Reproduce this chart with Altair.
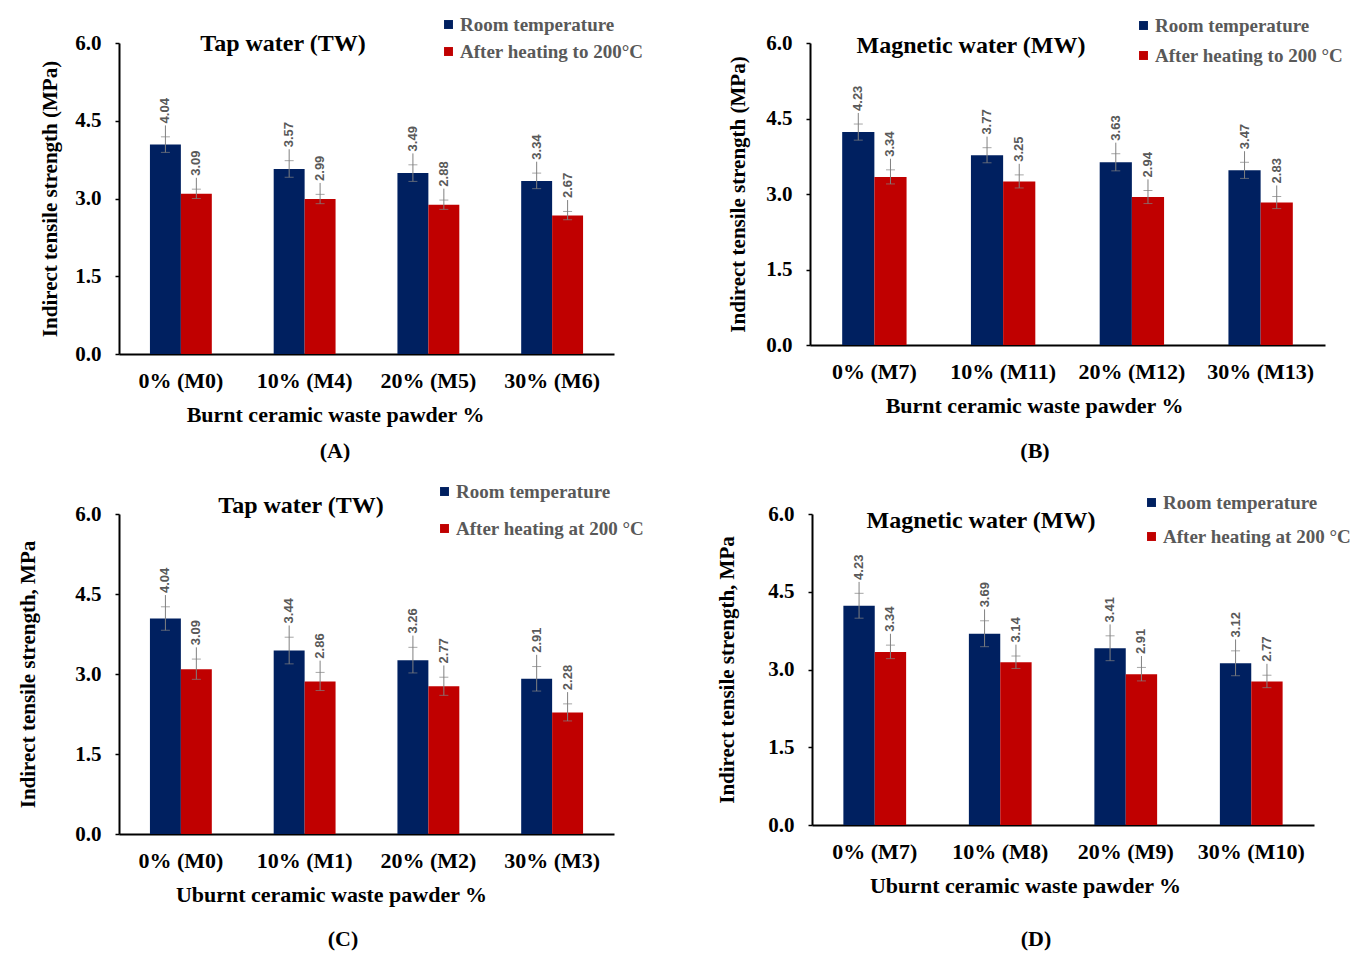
import altair as alt
import pandas as pd

SERIF = "Liberation Serif"
SANS = "Liberation Sans"
COLORS = ["#002060", "#C00000"]
LABEL_GAP = 0.22

# ---- Panel A ----
cats_A = ["0% (M0)", "10% (M4)", "20% (M5)", "30% (M6)"]
room_A = [4.04, 3.57, 3.49, 3.34]
heat_A = [3.09, 2.99, 2.88, 2.67]
err_room_A = [0.15, 0.16, 0.16, 0.15]
err_heat_A = [0.09, 0.09, 0.09, 0.08]
series_A = ["Room temperature", "After heating to 200°C"]

# ---- Panel B ----
cats_B = ["0% (M7)", "10% (M11)", "20% (M12)", "30% (M13)"]
room_B = [4.23, 3.77, 3.63, 3.47]
heat_B = [3.34, 3.25, 2.94, 2.83]
err_room_B = [0.16, 0.15, 0.17, 0.16]
err_heat_B = [0.14, 0.13, 0.13, 0.12]
series_B = ["Room temperature", "After heating to 200 °C"]

# ---- Panel C ----
cats_C = ["0% (M0)", "10% (M1)", "20% (M2)", "30% (M3)"]
room_C = [4.04, 3.44, 3.26, 2.91]
heat_C = [3.09, 2.86, 2.77, 2.28]
err_room_C = [0.22, 0.25, 0.24, 0.23]
err_heat_C = [0.19, 0.17, 0.17, 0.16]
series_C = ["Room temperature", "After heating at  200 °C"]

# ---- Panel D ----
cats_D = ["0% (M7)", "10% (M8)", "20% (M9)", "30% (M10)"]
room_D = [4.23, 3.69, 3.41, 3.12]
heat_D = [3.34, 3.14, 2.91, 2.77]
err_room_D = [0.24, 0.25, 0.24, 0.24]
err_heat_D = [0.13, 0.12, 0.13, 0.12]
series_D = ["Room temperature", "After heating at 200 °C"]

y_ticks = [0.0, 1.5, 3.0, 4.5, 6.0]


def make_panel(cats, room, heat, eroom, eheat, series, title, tpos, ytitle, ytpad,
               xtitle, xtitle_x, letter, letter_pos, width, height, legpos, rowpad):
    rows = []
    for i, c in enumerate(cats):
        for s, v, e in ((series[0], room[i], eroom[i]), (series[1], heat[i], eheat[i])):
            rows.append(dict(cat=c, series=s, value=v, lo=v - e, hi=v + e,
                             top=v + e + LABEL_GAP, label=f"{v:.2f}"))
    df = pd.DataFrame(rows)

    x = alt.X("cat:N", sort=cats, title=xtitle,
              scale=alt.Scale(type="band", paddingInner=0.5, paddingOuter=0.25),
              axis=alt.Axis(labelAngle=0, ticks=False, domainColor="black", domainWidth=2,
                            labelFont=SERIF, labelFontSize=22, labelFontWeight="bold",
                            labelColor="black", labelPadding=16,
                            titleFont=SERIF, titleFontSize=22, titleFontWeight="bold",
                            titleColor="black", titlePadding=13,
                            titleX=xtitle_x, titleAlign="center"))
    xo = alt.XOffset("series:N", sort=series,
                     scale=alt.Scale(type="band", paddingInner=0, paddingOuter=0))
    yaxis = alt.Axis(values=y_ticks, format=".1f", grid=False, domainColor="black",
                     domainWidth=2, tickColor="black", tickWidth=1.5, tickSize=4,
                     labelFont=SERIF, labelFontSize=21, labelFontWeight="bold",
                     labelColor="black", labelPadding=14,
                     titleFont=SERIF, titleFontSize=21, titleFontWeight="bold",
                     titleColor="black", titlePadding=ytpad)
    yscale = alt.Scale(domain=[0, 6], nice=False)

    base = alt.Chart(df)
    bars = base.mark_bar().encode(
        x=x, xOffset=xo,
        y=alt.Y("value:Q", scale=yscale, axis=yaxis, title=ytitle),
        color=alt.Color("series:N", sort=series,
                        scale=alt.Scale(domain=series, range=COLORS),
                        legend=alt.Legend(title=None, orient="none",
                                          legendX=legpos[0], legendY=legpos[1],
                                          symbolType="square", symbolSize=80,
                                          symbolStrokeWidth=0,
                                          labelFont=SERIF, labelFontSize=19,
                                          labelFontWeight="bold", labelColor="#595959",
                                          rowPadding=rowpad, labelLimit=400,
                                          symbolOffset=0, labelOffset=2)),
    )
    whisk = base.mark_rule(color="#808080", strokeWidth=1).encode(
        x=x, xOffset=xo,
        y=alt.Y("lo:Q", scale=yscale, axis=yaxis, title=ytitle),
        y2="top:Q",
    )
    cap_lo = base.mark_tick(color="#808080", size=9, thickness=1).encode(
        x=x, xOffset=xo, y=alt.Y("lo:Q", scale=yscale, axis=yaxis, title=ytitle))
    cap_hi = base.mark_tick(color="#808080", size=9, thickness=1).encode(
        x=x, xOffset=xo, y=alt.Y("hi:Q", scale=yscale, axis=yaxis, title=ytitle))
    txt = base.mark_text(angle=270, align="left", baseline="middle", dx=2,
                         font=SANS, fontSize=13, fontWeight="bold",
                         color="#595959").encode(
        x=x, xOffset=xo, y=alt.Y("top:Q", scale=yscale, axis=yaxis, title=ytitle),
        text="label:N")
    ttl = alt.Chart(pd.DataFrame({"t": [title]})).mark_text(
        font=SERIF, fontSize=24, fontWeight="bold", color="black",
        align="center", baseline="middle").encode(
        text="t:N", x=alt.value(tpos[0]), y=alt.value(tpos[1]))
    let = alt.Chart(pd.DataFrame({"t": [letter]})).mark_text(
        font=SERIF, fontSize=22, fontWeight="bold", color="black", align="center",
        baseline="middle").encode(
        text="t:N", x=alt.value(letter_pos[0]), y=alt.value(height + letter_pos[1]))
    return alt.layer(bars, whisk, cap_lo, cap_hi, txt, ttl, let).properties(
        width=width, height=height)


pA = make_panel(cats_A, room_A, heat_A, err_room_A, err_heat_A, series_A,
                "Tap water (TW)", (164, 1), "Indirect tensile strength (MPa)", 14,
                "Burnt ceramic waste pawder %", 216, "(A)", (216, 97),
                495, 311, (320, -28), 7)
pB = make_panel(cats_B, room_B, heat_B, err_room_B, err_heat_B, series_B,
                "Magnetic water (MW)", (161, 3), "Indirect tensile strength (MPa)", 17,
                "Burnt ceramic waste pawder %", 224, "(B)", (225, 106),
                515, 302, (324, -27), 10)
pC = make_panel(cats_C, room_C, heat_C, err_room_C, err_heat_C, series_C,
                "Tap water (TW)", (182, -8), "Indirect tensile strength, MPa", 36,
                "Uburnt  ceramic waste pawder %", 212, "(C)", (224, 105),
                495, 320, (316, -32), 17)
pD = make_panel(cats_D, room_D, heat_D, err_room_D, err_heat_D, series_D,
                "Magnetic water (MW)", (169, 7), "Indirect tensile strength, MPa", 30,
                "Uburnt  ceramic waste pawder %", 213, "(D)", (224, 114),
                502, 311, (330, -21), 14)

row1 = alt.hconcat(pA, pB, spacing=83).resolve_scale(color="independent",
                                                     xOffset="independent")
row2 = alt.hconcat(pC, pD, spacing=67).resolve_scale(color="independent",
                                                     xOffset="independent")
chart = alt.vconcat(row1, row2, spacing=20).resolve_scale(
    color="independent", xOffset="independent").configure_view(
    stroke=None).properties(padding={"left": 9, "top": 7, "right": 5, "bottom": 5})

chart.save("out.html", embed_options={"renderer": "svg", "actions": False})
